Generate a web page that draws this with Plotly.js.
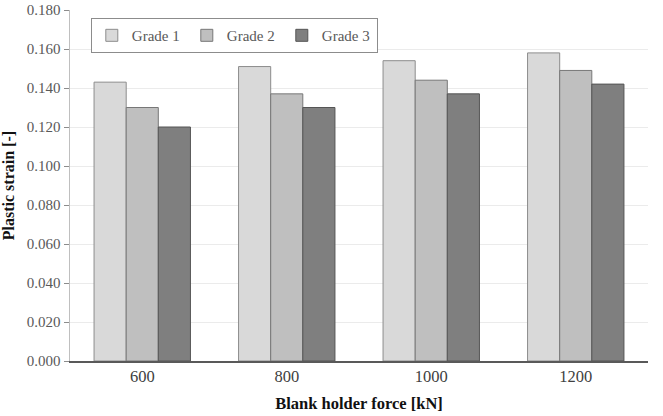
<!DOCTYPE html>
<html><head><meta charset="utf-8">
<script src="https://cdn.plot.ly/plotly-3.0.1.min.js"></script>
<style>html,body{margin:0;padding:0;background:#fff}#c{width:663px;height:416px}</style>
</head><body><div id="c"></div>
<script>
const categories = ['600', '800', '1000', '1200'];
const grade1 = [0.143, 0.151, 0.154, 0.158];
const grade2 = [0.130, 0.137, 0.144, 0.149];
const grade3 = [0.120, 0.130, 0.137, 0.142];
const seriesNames = ['Grade 1', 'Grade 2', 'Grade 3'];
const colors = ['#d9d9d9', '#bfbfbf', '#7f7f7f'];
const lineColors = ['#8c8c8c', '#777777', '#555555'];
const font = 'Liberation Serif, Times New Roman, serif';
const data = [grade1, grade2, grade3].map((v, i) => ({
  type: 'bar', x: categories, y: v, name: seriesNames[i],
  marker: {color: colors[i], line: {color: lineColors[i], width: 1}}
}));
const layout = {
  width: 663, height: 416,
  margin: {l: 70, r: 15, t: 10, b: 55},
  paper_bgcolor: '#fff', plot_bgcolor: '#fff',
  barmode: 'group', bargap: 0.333, bargroupgap: 0,
  font: {family: font, size: 15, color: '#595959'},
  showlegend: true,
  legend: {orientation: 'h', x: 0.036, y: 0.977, xanchor: 'left', yanchor: 'top',
    bordercolor: '#8c8c8c', borderwidth: 1, bgcolor: '#fff',
    font: {family: font, size: 15, color: '#595959'}, itemwidth: 30,
    entrywidth: 50, itemclick: false},
  xaxis: {type: 'category', showline: true, linecolor: '#595959', linewidth: 1.5,
    ticks: '', tickfont: {family: font, size: 16.5, color: '#404040'},
    title: {text: 'Blank holder force [kN]', font: {family: font, size: 16.5, color: '#111', weight: 'bold'}, standoff: 12}},
  yaxis: {range: [0, 0.18], dtick: 0.02, tickformat: '.3f', showline: true,
    linecolor: '#bfbfbf', linewidth: 1.5, ticks: 'outside', ticklen: 5, tickcolor: '#8c8c8c',
    gridcolor: '#ebebeb', gridwidth: 1, zeroline: false,
    tickfont: {family: font, size: 15, color: '#595959'}},
  annotations: [{text: 'Plastic strain [-]', xref: 'paper', yref: 'paper', x: -0.106, y: 0.5,
    xanchor: 'center', yanchor: 'middle', textangle: -90, showarrow: false,
    font: {family: font, size: 16, color: '#111', weight: 'bold'}}]
};
Plotly.newPlot('c', data, layout, {displayModeBar: false, staticPlot: true});
</script></body></html>
